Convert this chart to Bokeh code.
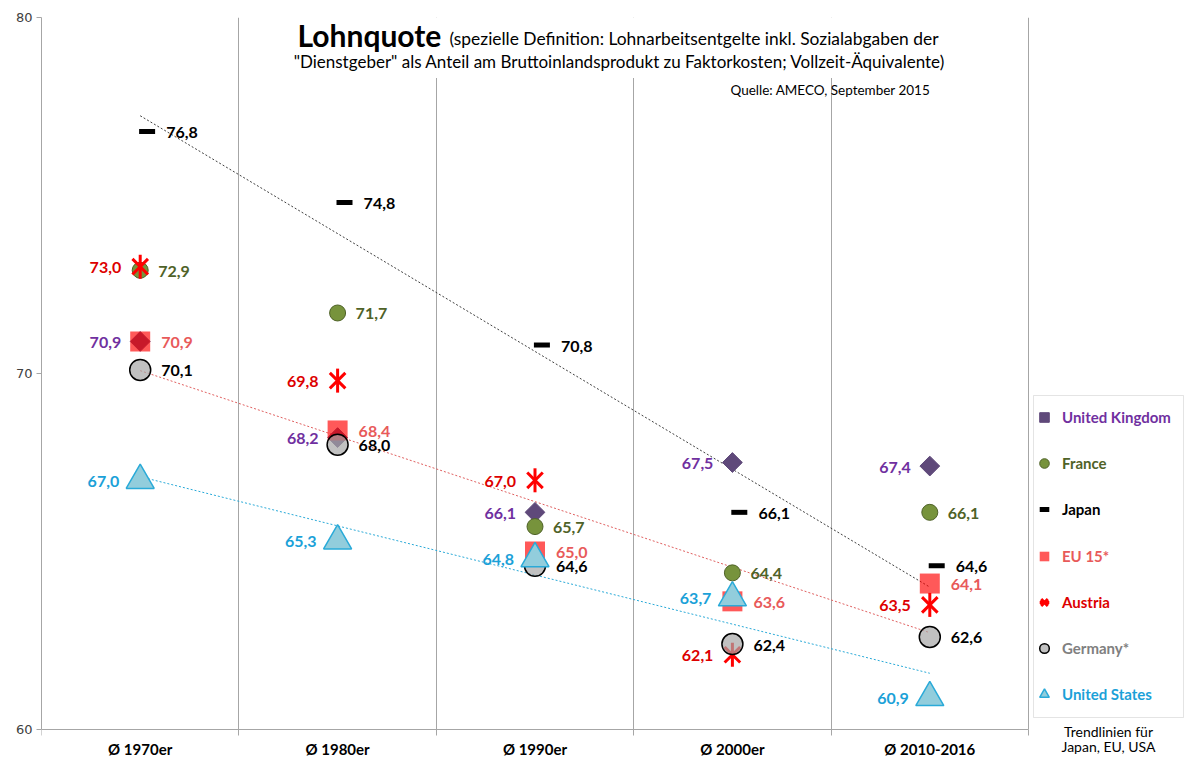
import numpy as np
from bokeh.plotting import figure
from bokeh.models import (Range1d, FixedTicker, ColumnDataSource, Label,
                          BoxAnnotation, Legend, LegendItem)
from bokeh.transform import dodge
from bokeh.core.properties import value
from bokeh.embed import file_html
from bokeh.resources import INLINE

# ---------------- data ----------------
categories = ["Ø 1970er", "Ø 1980er", "Ø 1990er", "Ø 2000er", "Ø 2010-2016"]
uk = [70.9, 68.2, 66.1, 67.5, 67.4]
france = [72.9, 71.7, 65.7, 64.4, 66.1]
japan = [76.8, 74.8, 70.8, 66.1, 64.6]
eu15 = [70.9, 68.4, 65.0, 63.6, 64.1]
austria = [73.0, 69.8, 67.0, 62.1, 63.5]
germany = [70.1, 68.0, 64.6, 62.4, 62.6]
usa = [67.0, 65.3, 64.8, 63.7, 60.9]
y_ticks = [60, 70, 80]

xs = list(range(1, len(categories) + 1))
FONT = "Lato"

# ---------------- layout ----------------
W, H = 1184, 758
FL, FT = 41, 17                 # frame left / top in pixels
PX_X = 197.4                    # pixels per category
PX_Y = 35.6                     # pixels per percentage point
x_end = 0.5 + (W - FL) / PX_X
y_start = 60 - (H - (FT + 20 * PX_Y)) / PX_Y

def sx(px):   # picture x -> frame screen units
    return px - FL

def sy(py):   # picture y -> frame screen units (from bottom)
    return H - py

p = figure(width=W, height=H, x_range=Range1d(0.5, x_end), y_range=Range1d(y_start, 80),
           output_backend="svg", toolbar_location=None,
           min_border_left=FL, min_border_right=0, min_border_top=FT, min_border_bottom=0)
p.outline_line_color = None
p.background_fill_color = "white"
p.border_fill_color = "white"

# axes
p.yaxis.ticker = FixedTicker(ticks=y_ticks)
p.yaxis.bounds = (60, 80)
p.yaxis.axis_line_color = "#A6A6A6"
p.yaxis.major_tick_line_color = "#A6A6A6"
p.yaxis.major_tick_out = 5
p.yaxis.major_tick_in = 0
p.yaxis.minor_tick_line_color = None
p.yaxis.major_label_text_font = "DejaVu Sans"
p.yaxis.major_label_text_font_size = "13px"
p.yaxis.major_label_text_color = "#404040"
p.yaxis.major_label_standoff = 4

p.xaxis.fixed_location = 60
p.xaxis.bounds = (0.5, 5.5)
p.xaxis.ticker = FixedTicker(ticks=xs, minor_ticks=[x - 0.5 for x in xs] + [xs[-1] + 0.5])
p.xaxis.major_label_overrides = {x: c for x, c in zip(xs, categories)}
p.xaxis.axis_line_color = "#A6A6A6"
p.xaxis.major_tick_line_color = None
p.xaxis.major_tick_out = 0
p.xaxis.major_tick_in = 0
p.xaxis.minor_tick_line_color = "#A6A6A6"
p.xaxis.minor_tick_out = 6
p.xaxis.minor_tick_in = 0
p.xaxis.major_label_text_font = FONT
p.xaxis.major_label_text_font_style = "bold"
p.xaxis.major_label_text_font_size = "15px"
p.xaxis.major_label_text_color = "black"
p.xaxis.major_label_standoff = 4

p.xgrid.ticker = FixedTicker(ticks=[x + 0.5 for x in xs])
p.xgrid.grid_line_color = "#A6A6A6"
p.ygrid.visible = False

# mask grid lines below the x axis and behind the title
p.add_layout(BoxAnnotation(top=60, fill_color="white", fill_alpha=1, line_color=None,
                           level="underlay"))
p.add_layout(BoxAnnotation(left=1.76, right=5.1, bottom=78.3,
                           fill_color="white", fill_alpha=1, line_color=None, level="underlay"))

# ---------------- trend lines ----------------
def trend(vals):
    k, d = np.polyfit(xs, vals, 1)
    return [xs[0], xs[-1]], [k * xs[0] + d, k * xs[-1] + d]

for vals, col in [(japan, "#404040"), (eu15, "#E06060"), (usa, "#2AAAD8")]:
    tx, ty = trend(vals)
    p.line(tx, ty, line_color=col, line_width=1, line_dash="2 2")

# ---------------- series ----------------
def src(vals):
    return ColumnDataSource(dict(x=xs, y=vals, label=[f"{v:.1f}".replace(".", ",") for v in vals]))

s_uk, s_fr, s_jp, s_eu, s_at, s_de, s_us = (src(v) for v in (uk, france, japan, eu15, austria, germany, usa))

r_uk = p.scatter("x", "y", source=s_uk, marker="square", angle=np.pi / 4, size=14,
                 fill_color="#5F497A", line_color="#5F497A")
r_fr = p.scatter("x", "y", source=s_fr, marker="circle", size=16,
                 fill_color="#77933C", line_color="#4F6228", line_width=1)
r_jp = p.scatter(dodge("x", 0.035, range=p.x_range), "y", source=s_jp, marker="dash", size=16,
                 line_color="black", line_width=5)
r_eu = p.scatter("x", "y", source=s_eu, marker="square", size=20,
                 fill_color="#FF0000", fill_alpha=0.65, line_color=None)
r_at1 = p.scatter("x", "y", source=s_at, marker="x", size=22, line_color="#FF0000", line_width=3)
r_at2 = p.scatter("x", "y", source=s_at, marker="dash", angle=np.pi / 2, size=24,
                  line_color="#FF0000", line_width=3)
r_de = p.scatter("x", "y", source=s_de, marker="circle", size=21,
                 fill_color="#A6A6A6", fill_alpha=0.7, line_color="black", line_width=1.5)
r_us = p.scatter("x", "y", source=s_us, marker="triangle", size=28,
                 fill_color="#92CDDC", line_color="#2AAAD8", line_width=1.5)

# ---------------- value labels ----------------
def labels(s, col, off, align):
    p.text("x", "y", text="label", source=s, x_offset=off, y_offset=1, text_align=align,
           text_baseline="middle", text_font=value(FONT), text_font_style="bold",
           text_font_size="16px", text_color=col)

labels(s_uk, "#7030A0", -19, "right")
labels(s_fr, "#4F6228", 18, "left")
labels(s_jp, "black", 26, "left")
labels(s_eu, "#E85A5A", 21, "left")
labels(s_at, "#DD0000", -19, "right")
labels(s_de, "black", 21, "left")
labels(s_us, "#1BA1D8", -21, "right")

# ---------------- title texts ----------------
def lab(px, py, text, size, align="left", style="normal"):
    p.add_layout(Label(x=sx(px), y=sy(py), x_units="screen", y_units="screen", text=text,
                       text_font=FONT, text_font_style=style, text_font_size=size,
                       text_color="black", text_align=align, text_baseline="middle"))

lab(297, 34, "Lohnquote", "30px", style="bold")
lab(449, 38, "(spezielle Definition: Lohnarbeitsentgelte inkl. Sozialabgaben der", "17.4px")
lab(619, 61, "\"Dienstgeber\" als Anteil am Bruttoinlandsprodukt zu Faktorkosten; Vollzeit-Äquivalente)", "17px", align="center")
lab(930, 89, "Quelle: AMECO, September 2015", "13.5px", align="right")
lab(1108, 731, "Trendlinien für", "14px", align="center")
lab(1108, 746, "Japan, EU, USA", "14px", align="center")

# ---------------- legend ----------------
p.add_layout(BoxAnnotation(left=sx(1033), right=sx(1183), bottom=sy(717), top=sy(395),
                           left_units="screen", right_units="screen",
                           bottom_units="screen", top_units="screen",
                           fill_alpha=0, line_color="#A6A6A6", line_width=1))

legend_entries = [
    ("United Kingdom", [r_uk], "#7030A0"),
    ("France", [r_fr], "#4F6228"),
    ("Japan", [r_jp], "black"),
    ("EU 15*", [r_eu], "#E85A5A"),
    ("Austria", [r_at1, r_at2], "#DD0000"),
    ("Germany*", [r_de], "#808080"),
    ("United States", [r_us], "#1BA1D8"),
]
G = 24
for i, (name, rs, col) in enumerate(legend_entries):
    yc = 417 + i * 46.2
    lg = Legend(items=[LegendItem(label=name, renderers=rs)],
                location=(sx(1044 - G / 2), sy(yc + G / 2)),
                padding=0, margin=0, spacing=0, border_line_color=None,
                background_fill_alpha=0, glyph_width=G, glyph_height=G,
                label_standoff=6, label_text_font=FONT, label_text_font_style="bold",
                label_text_font_size="15px", label_text_color=col, label_height=G)
    p.add_layout(lg)

open("out.html", "w").write(file_html(p, INLINE))
